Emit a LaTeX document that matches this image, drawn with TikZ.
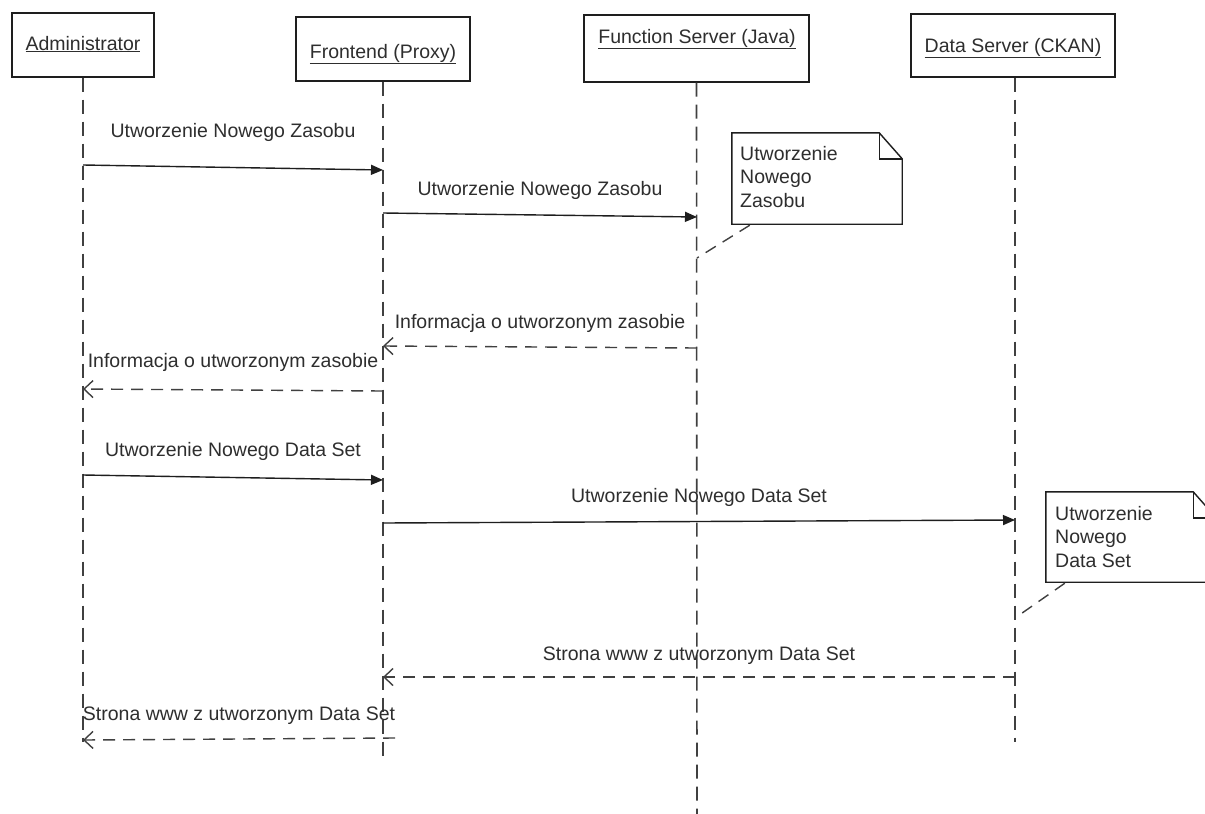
\documentclass[tikz,border=0pt]{standalone}
\usepackage{fontspec}
\setmainfont{Liberation Sans}
\usetikzlibrary{arrows.meta,calc}
\definecolor{ink}{HTML}{1E1E1E}
\definecolor{txt}{HTML}{2E2E2E}
\begin{document}
\begin{tikzpicture}[x=1pt,y=-1pt,
  font=\fontsize{19.5}{23.5}\selectfont,
  head/.style={draw=ink, line width=1.4pt, fill=white, inner sep=0pt},
  headtext/.style={text=txt, inner sep=0pt, anchor=base},
  life/.style={draw=ink!85, line width=1.6pt, dash pattern=on 14pt off 8pt},
  call/.style={draw=ink, line width=1.4pt, -{Triangle[length=12pt,width=10pt]}},
  reply/.style={draw=ink!85, line width=1.4pt, dash pattern=on 12pt off 8pt,
    -{Straight Barb[length=9pt,width=17pt,line width=1.4pt]}},
  lbl/.style={text=txt, inner sep=0pt, anchor=base},
  notebox/.style={inner sep=0pt},
  noteline/.style={draw=ink, line width=1.4pt, line join=miter},
  notetext/.style={text=txt, inner sep=0pt, anchor=west, align=left},
  anchorline/.style={draw=ink!85, line width=1.4pt, dash pattern=on 12pt off 8pt},
]
\useasboundingbox (0,0) rectangle (1205,814);
\fill[white] (0,0) rectangle (1205,814);

% participant boxes
\node[head, minimum width=142pt, minimum height=64pt] (adm) at (83,45) {};
\node[head, minimum width=174pt, minimum height=64pt] (fro) at (383,49) {};
\node[head, minimum width=225pt, minimum height=67pt] (fun) at (696.5,48.5) {};
\node[head, minimum width=204pt, minimum height=63pt] (dat) at (1013,45.5) {};

\node[headtext] (admT) at (83,50) {\underline{Administrator}};
\node[headtext] (froT) at (383,58) {\underline{Frontend (Proxy)}};
\node[headtext] (funT) at (697,43) {\underline{Function Server (Java)}};
\node[headtext] (datT) at (1013,52) {\underline{Data Server (CKAN)}};

% lifeline ends
\coordinate (admE) at (83,742);
\coordinate (froE) at (383,757);
\coordinate (funE) at (697,814);
\coordinate (datE) at (1015,742);

\draw[life] (adm.south) -- (admE);
\draw[life] (fro.south) -- (froE);
\draw[life] (fun.south) -- (funE);
\draw[life] (dat.south -| datE) -- (datE);

% message end points
\coordinate (m1a) at (83,165);   \coordinate (m1b) at (383,170);
\coordinate (m2a) at (383,213);  \coordinate (m2b) at (697,217);
\coordinate (m4a) at (697,348);  \coordinate (m4b) at (383,346);
\coordinate (m5a) at (383,391);  \coordinate (m5b) at (83,389);
\coordinate (m6a) at (83,475);   \coordinate (m6b) at (383,480);
\coordinate (m7a) at (383,523);  \coordinate (m7b) at (1015,520);
\coordinate (m9a) at (1015,677); \coordinate (m9b) at (383,677);
\coordinate (m10a) at (395,738); \coordinate (m10b) at (83,740);

% messages
\draw[call] (m1a) -- (m1b);
\node[lbl] (l1) at (233,137) {Utworzenie Nowego Zasobu};

\draw[call] (m2a) -- (m2b);
\node[lbl] (l2) at (540,195) {Utworzenie Nowego Zasobu};

\draw[reply] (m4a) -- (m4b);
\node[lbl] (l4) at (540,328) {Informacja o utworzonym zasobie};

\draw[reply] (m5a) -- (m5b);
\node[lbl] (l5) at (233,367) {Informacja o utworzonym zasobie};

\draw[call] (m6a) -- (m6b);
\node[lbl] (l6) at (233,456) {Utworzenie Nowego Data Set};

\draw[call] (m7a) -- (m7b);
\node[lbl] (l7) at (699,502) {Utworzenie Nowego Data Set};

\draw[reply] (m9a) -- (m9b);
\node[lbl] (l9) at (699,660) {Strona www z utworzonym Data Set};

\draw[reply] (m10a) -- (m10b);
\node[lbl] (l10) at (239,720) {Strona www z utworzonym Data Set};

% note on the function server
\node[notebox, minimum width=170pt, minimum height=91pt] (n1) at (817,178.5) {};
\draw[noteline] (n1.north west) -- ($(n1.north east)+(-23,0)$)
  -- ($(n1.north east)+(0,26)$) -- (n1.south east) -- (n1.south west) -- cycle;
\draw[noteline] ($(n1.north east)+(-23,0)$) -- ($(n1.north east)+(-23,26)$)
  -- ($(n1.north east)+(0,26)$);
\node[notetext] (n1T) at (740,177) {Utworzenie\\Nowego\\Zasobu};
\coordinate (n1L) at (697,258);
\draw[anchorline] ($(n1.south west)+(18,1)$) -- (n1L);

% note on the data server
\node[notebox, minimum width=170pt, minimum height=90pt] (n2) at (1131,537) {};
\draw[noteline] (n2.north west) -- ($(n2.north east)+(-23,0)$)
  -- ($(n2.north east)+(0,26)$) -- (n2.south east) -- (n2.south west) -- cycle;
\draw[noteline] ($(n2.north east)+(-23,0)$) -- ($(n2.north east)+(-23,26)$)
  -- ($(n2.north east)+(0,26)$);
\node[notetext] (n2T) at (1055,537) {Utworzenie\\Nowego\\Data Set};
\coordinate (n2L) at (1015,618);
\draw[anchorline] ($(n2.south west)+(19,1)$) -- (n2L);
\end{tikzpicture}
\end{document}
